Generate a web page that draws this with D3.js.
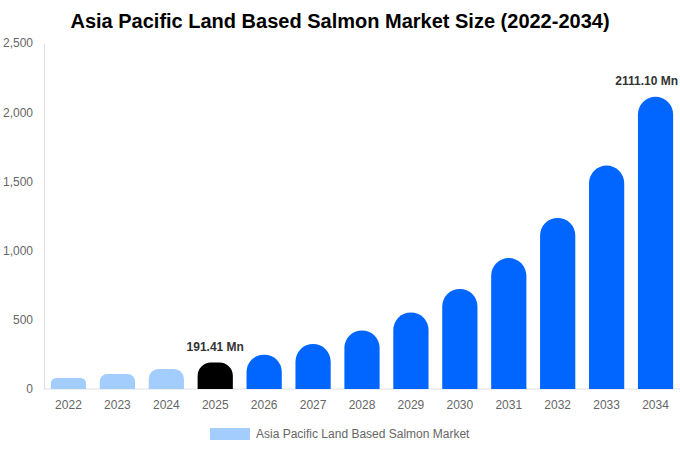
<!DOCTYPE html>
<html>
<head>
<meta charset="UTF-8" />
<script src="https://d3js.org/d3.v7.min.js"></script>
<style>
  body { margin: 0; background: #fff; }
  svg { font-family: "Liberation Sans", Arial, sans-serif; }
</style>
</head>
<body>
<div id="chart"></div>
<script>
// data
const years = ['2022', '2023', '2024', '2025', '2026', '2027', '2028', '2029', '2030', '2031', '2032', '2033', '2034']
const values = [80, 108, 145, 191.41, 248, 325, 423, 553, 723, 946, 1236, 1614, 2111.10]
const yTicks = [0, 500, 1000, 1500, 2000, 2500]
const labelled = { '2025': '191.41 Mn', '2034': '2111.10 Mn' }
const seriesName = 'Asia Pacific Land Based Salmon Market'

const W = 680, H = 450
const margin = { top: 43, right: 0, bottom: 61, left: 44 }

const svg = d3.select('#chart').append('svg')
    .attr('width', W)
    .attr('height', H)

// title
svg.append('text')
    .attr('x', 340)
    .attr('y', 28)
    .attr('text-anchor', 'middle')
    .style('font-size', '20px')
    .style('font-weight', 'bold')
    .style('fill', '#000')
    .text('Asia Pacific Land Based Salmon Market Size (2022-2034)')

const x = d3.scaleBand()
    .domain(years)
    .range([margin.left, W - margin.right])
    .paddingInner(0.28)
    .paddingOuter(0.14)

const y = d3.scaleLinear()
    .domain([0, 2500])
    .range([H - margin.bottom, margin.top])

// y axis
const yAxis = svg.append('g')
    .attr('transform', `translate(${margin.left},0)`)
    .call(d3.axisLeft(y).tickValues(yTicks).tickSize(0).tickPadding(11).tickFormat(d3.format(',')))
yAxis.select('.domain').attr('stroke', '#e0e0e0')
yAxis.selectAll('text').style('font-size', '12px').style('fill', '#666')

// x axis
const xAxis = svg.append('g')
    .attr('transform', `translate(0,${H - margin.bottom})`)
    .call(d3.axisBottom(x).tickSize(0).tickPadding(11))
xAxis.select('.domain').attr('stroke', '#e0e0e0').attr('d', `M${margin.left},0H${W}`)
xAxis.selectAll('text').style('font-size', '12px').style('fill', '#666')

function barColor(yr) {
    if (+yr < 2025) return '#a2cdfd'
    if (+yr === 2025) return '#000000'
    return '#0066ff'
}

// bars with rounded tops
function barPath(d, i) {
    const x0 = x(years[i]), w = x.bandwidth()
    const y0 = y(0), y1 = y(d)
    const h = y0 - y1
    const r = Math.min(w / 2, h / 2)
    return `M${x0},${y0}V${y1 + r}A${r},${r} 0 0 1 ${x0 + r},${y1}` +
        `H${x0 + w - r}A${r},${r} 0 0 1 ${x0 + w},${y1 + r}V${y0}Z`
}

svg.append('g')
    .selectAll('path')
    .data(values)
    .join('path')
    .attr('d', barPath)
    .attr('fill', (d, i) => barColor(years[i]))

// value labels (kept inside the picture at the right edge)
svg.append('g')
    .selectAll('text')
    .data(years.filter(yr => labelled[yr]))
    .join('text')
    .attr('x', yr => x(yr) + x.bandwidth() / 2)
    .attr('y', yr => y(values[years.indexOf(yr)]) - 12)
    .attr('text-anchor', 'middle')
    .style('font-size', '12px')
    .style('font-weight', 'bold')
    .style('fill', '#333')
    .text(yr => labelled[yr])
    .each(function () {
        const bb = this.getBBox()
        const over = bb.x + bb.width - (W - 2)
        if (over > 0) d3.select(this).attr('x', +this.getAttribute('x') - over)
    })

// legend
const legend = svg.append('g').attr('transform', 'translate(210,428)')
legend.append('rect')
    .attr('width', 40)
    .attr('height', 12)
    .attr('fill', '#a2cdfd')
legend.append('text')
    .attr('x', 46)
    .attr('y', 10)
    .style('font-size', '12px')
    .style('fill', '#666')
    .text(seriesName)
</script>
</body>
</html>
